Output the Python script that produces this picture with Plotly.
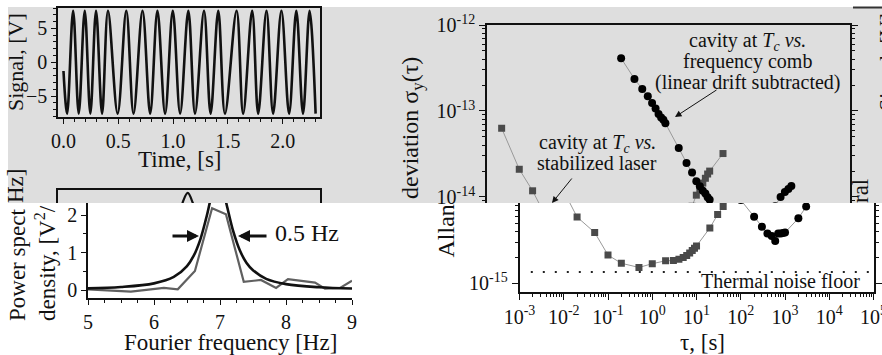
import plotly.graph_objects as go

W, H = 882, 355
def px(x): return x / W
def py(y): return 1 - y / H

FONT = "Liberation Serif"
GRAYBG = "#dedede"

# ---------------- data ----------------
# Signal panel: extremes of the recorded signal (time [s], signal [V])
sig_t = [0.0, 0.033, 0.088, 0.139, 0.194, 0.245, 0.297, 0.352, 0.406, 0.494, 0.573,
         0.639, 0.721, 0.791, 0.857, 0.927, 0.997, 1.064, 1.139, 1.2, 1.282, 1.342,
         1.412, 1.473, 1.579, 1.639, 1.721, 1.776, 1.852, 1.912, 1.988, 2.058, 2.124,
         2.185, 2.245, 2.3]
sig_v = [-1.3, -7.6, 7.6, -7.6, 7.6, -7.6, 7.6, -7.6, 7.6, -7.6, 7.6,
         -7.6, 7.6, -7.6, 7.6, -7.6, 7.6, -7.6, 7.6, -7.6, 7.6, -7.6,
         7.6, -7.6, 7.6, -7.6, 7.6, -7.6, 7.6, -7.6, 7.6, -7.6, 7.6,
         -7.6, 7.6, -7.6]

# Power spectral density: Lorentzian fit and measured spectrum
psd_fit_f = [5.0, 5.5, 6.0, 6.3, 6.5, 6.6, 6.7, 6.8, 6.9, 6.97, 7.05, 7.1, 7.2, 7.3,
             7.4, 7.5, 7.7, 8.0, 8.5, 9.0]
psd_fit_v = [0.046, 0.082, 0.18, 0.35, 0.64, 0.91, 1.34, 1.98, 2.69, 2.9, 2.63, 2.28,
             1.57, 1.06, 0.73, 0.53, 0.30, 0.16, 0.075, 0.043]
psd_meas_f = [5.0, 5.65, 6.15, 6.36, 6.62, 6.88, 7.09, 7.36, 7.62, 7.85, 8.03, 8.44,
              8.59, 8.82, 9.0]
psd_meas_v = [0.02, -0.04, 0.06, 0.02, 0.51, 2.18, 2.02, 0.22, 0.27, 0.06, 0.29, 0.2,
              0.04, 0.06, 0.25]

# Allan deviation: cavity vs stabilized laser (squares)
laser_tau = [0.002, 0.005, 0.01, 0.02, 0.05, 0.1, 0.2, 0.5, 1, 2, 3, 4, 5, 6, 7, 8, 9,
             10, 20, 30, 40, 50, 60, 70, 80, 90, 100, 200]
laser_adev = [6.3e-14, 2.1e-14, 1.18e-14, 5.9e-15, 3.9e-15, 2.13e-15, 1.71e-15,
              1.53e-15, 1.69e-15, 1.83e-15, 1.84e-15, 1.9e-15, 2.0e-15, 2.1e-15,
              2.25e-15, 2.4e-15, 2.55e-15, 2.72e-15, 4.4e-15, 6.3e-15, 7.8e-15,
              1.05e-14, 1.25e-14, 1.45e-14, 1.65e-14, 1.85e-14, 2.0e-14, 3.2e-14]
# Allan deviation: cavity vs frequency comb (circles)
comb_tau = [1, 2, 3, 4, 5, 6, 7, 8, 9, 10, 20, 30, 40, 50, 60, 70, 80, 90, 100, 200,
            300, 400, 500, 600, 700, 800, 900, 1000, 2000, 3000, 4000, 5000, 6000, 7000]
comb_adev = [4.1e-13, 2.36e-13, 1.8e-13, 1.48e-13, 1.24e-13, 1.07e-13, 9.2e-14,
             8.4e-14, 7.9e-14, 7.2e-14, 3.7e-14, 2.48e-14, 1.92e-14, 1.52e-14,
             1.33e-14, 1.18e-14, 1.1e-14, 9.9e-15, 9.3e-15, 5.95e-15, 4.55e-15,
             3.8e-15, 3.55e-15, 3.1e-15, 3.8e-15, 3.8e-15, 3.85e-15, 3.9e-15,
             5.7e-15, 7.8e-15, 1.0e-14, 1.14e-14, 1.24e-14, 1.34e-14]
floor_tau = [0.0018, 80000]
floor_adev = [1.35e-15, 1.35e-15]

tau_ticks = [1e-3, 1e-2, 1e-1, 1, 10, 100, 1e3, 1e4, 1e5]
tau_ticktext = ["10<sup>-3</sup>", "10<sup>-2</sup>", "10<sup>-1</sup>", "10<sup>0</sup>",
                "10<sup>1</sup>", "10<sup>2</sup>", "10<sup>3</sup>", "10<sup>4</sup>",
                "10<sup>5</sup>"]
adev_ticks = [1e-15, 1e-14, 1e-13, 1e-12]
adev_ticktext = ["10<sup>-15</sup>", "10<sup>-14</sup>", "10<sup>-13</sup>", "10<sup>-12</sup>"]

# ---------------- figure ----------------
fig = go.Figure()

fig.add_trace(go.Scatter(x=sig_t, y=sig_v, mode="lines", line=dict(color="#111", width=2.6, shape="spline"),
                         xaxis="x", yaxis="y", showlegend=False))
fig.add_trace(go.Scatter(x=psd_meas_f, y=psd_meas_v, mode="lines", line=dict(color="#606060", width=2.2),
                         xaxis="x2", yaxis="y2", showlegend=False))
fig.add_trace(go.Scatter(x=psd_fit_f, y=psd_fit_v, mode="lines", line=dict(color="#111", width=2.6, shape="spline"),
                         xaxis="x2", yaxis="y2", showlegend=False))
fig.add_trace(go.Scatter(x=psd_fit_f, y=psd_fit_v, mode="lines", line=dict(color="#111", width=2.2, shape="spline"),
                         xaxis="x3", yaxis="y3", showlegend=False))

for xa, ya in (("x4", "y4"), ("x5", "y5")):
    fig.add_trace(go.Scatter(x=laser_tau, y=laser_adev, mode="lines+markers",
                             line=dict(color="#999", width=1),
                             marker=dict(symbol="square", size=7, color="#4a4a4a"),
                             xaxis=xa, yaxis=ya, showlegend=False))
    fig.add_trace(go.Scatter(x=comb_tau, y=comb_adev, mode="lines+markers",
                             line=dict(color="#999", width=1),
                             marker=dict(symbol="circle", size=8, color="#000"),
                             xaxis=xa, yaxis=ya, showlegend=False))
fig.add_trace(go.Scatter(x=floor_tau, y=floor_adev, mode="lines",
                         line=dict(color="#222", width=2, dash="2px,10px"),
                         xaxis="x5", yaxis="y5", showlegend=False))

tickfont = dict(family=FONT, size=20, color="#111")
common = dict(showgrid=False, zeroline=False, linecolor="#111", linewidth=1.5,
              ticks="outside", tickcolor="#111", tickfont=tickfont, automargin=False,
              ticklabeloverflow="allow")
plain = dict(showgrid=False, zeroline=False, linecolor="#111", linewidth=1.5,
             showticklabels=False, automargin=False)

layout = dict(
    width=W, height=H, autosize=False,
    margin=dict(l=0, r=0, t=0, b=0, pad=0),
    paper_bgcolor="white", plot_bgcolor="rgba(0,0,0,0)",
    font=dict(family=FONT, color="#111"),
    xaxis=dict(domain=[px(58), px(320)], range=[-0.05, 2.34], anchor="y",
               showline=True, mirror=True, tickvals=[0, 0.5, 1.0, 1.5, 2.0],
               ticktext=["0.0", "0.5", "1.0", "1.5", "2.0"], ticklen=5,
               minor=dict(ticks="outside", ticklen=3, dtick=0.1, tickcolor="#111"),
               **common),
    yaxis=dict(domain=[py(117), py(8)], range=[-8.1, 8.0], anchor="x",
               showline=True, mirror=True, tickvals=[-5, 0, 5], ticklen=5,
               minor=dict(ticks="outside", ticklen=3, dtick=1, tickcolor="#111"),
               **common),
    xaxis2=dict(domain=[px(88), px(352)], range=[5, 9], anchor="y2",
                showline=True, tickvals=[5, 6, 7, 8, 9], ticklen=5,
                minor=dict(ticks="outside", ticklen=3, dtick=0.25, tickcolor="#111"),
                **common),
    yaxis2=dict(domain=[py(298), py(203)], range=[-0.21, 2.32], anchor="x2",
                showline=True, tickvals=[0, 1, 2], ticklen=5,
                minor=dict(ticks="outside", ticklen=3, dtick=0.5, tickcolor="#111"),
                **common),
    xaxis3=dict(domain=[px(58), px(320)], range=[4.93, 9.05], anchor="y3", side="top",
                showline=True, ticks="", **plain),
    yaxis3=dict(domain=[py(203), py(190)], range=[2.63, 2.98], anchor="x3",
                showline=True, mirror=True, ticks="", **plain),
    xaxis4=dict(domain=[px(487), px(850)], type="log", range=[-3.03, 5.17], anchor="y4",
                side="top", showline=True, ticks="", **plain),
    yaxis4=dict(domain=[py(203), py(25)], type="log", range=[-14.07, -12], anchor="x4",
                showline=True, mirror="allticks", tickvals=adev_ticks, ticktext=adev_ticktext,
                ticklen=6, minor=dict(ticks="outside", ticklen=3, tickcolor="#111",
                                      tickvals=[k * 10.0 ** e for e in (-15, -14, -13) for k in range(2, 10)]),
                **common),
    xaxis5=dict(domain=[px(519.5), px(874)], type="log", range=[-3, 5.01], anchor="y5",
                showline=True, tickvals=tau_ticks, ticktext=tau_ticktext, ticklen=6,
                minor=dict(ticks="outside", ticklen=3, tickcolor="#111",
                           tickvals=[k * 10.0 ** e for e in range(-3, 5) for k in range(2, 10)]),
                **common),
    yaxis5=dict(domain=[py(292), py(203)], type="log", range=[-15.101, -14.066], anchor="x5",
                showline=True, mirror="allticks", tickvals=adev_ticks, ticktext=adev_ticktext,
                ticklen=6, minor=dict(ticks="outside", ticklen=3, tickcolor="#111",
                                      tickvals=[k * 1e-15 for k in range(2, 10)]),
                **common),
)
fig.update_layout(**layout)

shapes = [
    dict(type="rect", xref="paper", yref="paper", x0=px(8), x1=px(882), y0=py(203), y1=py(7),
         fillcolor=GRAYBG, line=dict(width=0), layer="below"),
    dict(type="line", xref="paper", yref="paper", x0=px(853), x1=px(882), y0=py(7.5), y1=py(7.5),
         line=dict(color="#333", width=2)),
]
fig.update_layout(shapes=shapes)

def txt(x, y, s, size=21, angle=0, xa="center", ya="middle", align="center"):
    return dict(x=px(x), y=py(y), xref="paper", yref="paper", text=s, showarrow=False,
                textangle=angle, xanchor=xa, yanchor=ya, align=align,
                font=dict(family=FONT, size=size, color="#111"))

def arrow(x0, y0, x1, y1, width=1.2, head=2, size=1.0):
    return dict(x=px(x1), y=py(y1), ax=x0 - x1, ay=y0 - y1, xref="paper", yref="paper",
                axref="pixel", ayref="pixel", text="", showarrow=True,
                arrowhead=head, arrowwidth=width, arrowsize=size, arrowcolor="#111")

ann = [
    txt(16, 62, "Signal, [V]", 22, -90),
    txt(180, 159, "Time, [s]", 23),
    txt(887, 62, "Signal, [V]", 22, -90),
    txt(17, 323, "Power spect", 23, -90, ya="bottom"),
    txt(45, 323, "density, [V<sup>2</sup>/", 23, -90, ya="bottom"),
    txt(15, 186, "Hz]", 23, -90),
    txt(230, 342, "Fourier frequency [Hz]", 23),
    txt(273, 233, "0.5 Hz", 24, xa="left"),
    arrow(171, 236, 199, 236, width=3, head=2, size=0.8),
    arrow(268, 236, 238, 236, width=3, head=2, size=0.8),
    txt(861, 191, "ral", 23, -90),
    txt(412, 201, "deviation σ<sub>y</sub>(τ)", 24, -90, ya="bottom"),
    txt(445, 203, "Allan", 24, -90, ya="top"),
    txt(747, 42, "cavity at <i>T<sub>c</sub></i> <i>vs.</i>", 20),
    txt(747, 62, "frequency comb", 20),
    txt(747, 82, "(linear drift subtracted)", 20),
    arrow(718, 89, 675, 117, width=1, head=2, size=1.3),
    txt(597, 143, "cavity at <i>T<sub>c</sub></i> <i>vs.</i>", 20),
    txt(597, 163, "stabilized laser", 20),
    arrow(573, 177, 552, 203, width=1, head=2, size=1.3),
    txt(862, 281, "Thermal noise floor", 20, xa="right"),
    txt(702, 342, "τ, [s]", 23),
]
fig.update_layout(annotations=ann)

fig.write_html("out.html", config={"displayModeBar": False},
               post_script="document.body.style.margin='0';document.body.style.overflow='hidden';")
